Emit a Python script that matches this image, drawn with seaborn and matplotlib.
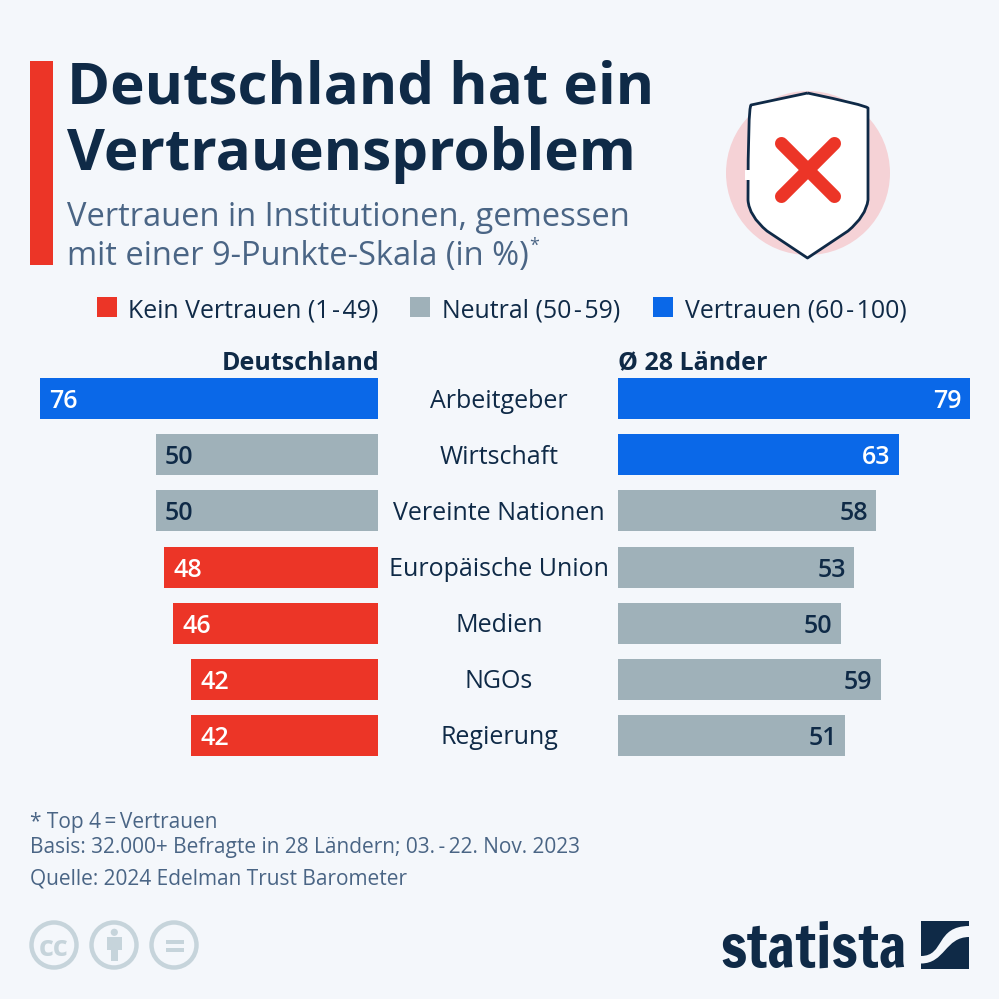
import numpy as np
import pandas as pd
import matplotlib
matplotlib.use('Agg')
import matplotlib.pyplot as plt
from matplotlib.patches import Rectangle, Circle, PathPatch
from matplotlib.path import Path
import seaborn as sns

institutions = ['Arbeitgeber', 'Wirtschaft', 'Vereinte Nationen', 'Europäische Union',
                'Medien', 'NGOs', 'Regierung']
deutschland = [76, 50, 50, 48, 46, 42, 42]
laender = [79, 63, 58, 53, 50, 59, 51]
legend_labels = ['Kein Vertrauen (1\u200a-\u200a49)', 'Neutral (50\u200a-\u200a59)', 'Vertrauen (60\u200a-\u200a100)']

RED = '#ec3527'
GREY = '#9fb1b9'
BLUE = '#0a68e8'
DARK = '#0f2a47'
SLATE = '#4a6585'
BG = '#f4f7fb'
ICON = '#c6d4db'
palette = {'kein': RED, 'neutral': GREY, 'vertrauen': BLUE}

sns.set_theme(style='white')
plt.rcParams['font.family'] = ['Open Sans', 'DejaVu Sans']

W = 999.0
PX_PER_UNIT = 4.455
STEP = 56.08
Y0 = 398.8


def status(v):
    if v < 50:
        return 'kein'
    if v < 60:
        return 'neutral'
    return 'vertrauen'


def bar_axes(fig, left, right):
    top = Y0 - STEP / 2
    bottom = Y0 + 6 * STEP + STEP / 2
    return fig.add_axes([left / W, 1 - bottom / W, (right - left) / W, (bottom - top) / W])


def draw_bars(ax, values):
    df = pd.DataFrame({'institution': institutions, 'value': values,
                       'status': [status(v) for v in values]})
    sns.barplot(data=df, y='institution', x='value', hue='status', order=institutions,
                palette=palette, dodge=False, legend=False, width=41 / STEP,
                orient='h', saturation=1, linewidth=0, ax=ax)
    ax.set_ylim(6.5, -0.5)
    ax.axis('off')


fig = plt.figure(figsize=(9.99, 9.99), dpi=100, facecolor=BG)

# left panel grows to the left from x=378
ax_de = bar_axes(fig, 28, 378.3)
draw_bars(ax_de, deutschland)
ax_de.set_xlim(350.3 / PX_PER_UNIT, 0)
for i, v in enumerate(deutschland):
    col = DARK if status(v) == 'neutral' else 'white'
    ax_de.annotate(str(v), (v, i), xytext=(6.8, 0), textcoords='offset points', ha='left',
                   va='center_baseline', color=col, fontsize=18, fontweight=600)

# right panel
ax_w = bar_axes(fig, 618, 978)
draw_bars(ax_w, laender)
ax_w.set_xlim(0, 360 / PX_PER_UNIT)
for i, v in enumerate(laender):
    col = DARK if status(v) == 'neutral' else 'white'
    ax_w.annotate(str(v), (v, i), xytext=(-6, 0), textcoords='offset points', ha='right',
                  va='center_baseline', color=col, fontsize=18, fontweight=600)

# everything else sits on a full figure overlay in pixel coordinates
ov = fig.add_axes([0, 0, 1, 1], zorder=5)
ov.set_xlim(0, W)
ov.set_ylim(W, 0)
ov.axis('off')
ov.patch.set_alpha(0)

for i, name in enumerate(institutions):
    ov.text(499, Y0 + i * STEP - 0.5, name, ha='center', va='center_baseline', color=DARK, fontsize=18)

ov.add_patch(Rectangle((30, 61), 23, 204, color=RED, lw=0))
ov.text(67, 104, 'Deutschland hat ein', fontsize=42, fontweight='bold', color=DARK)
ov.text(67, 170, 'Vertrauensproblem', fontsize=42, fontweight='bold', color=DARK)
ov.text(67, 226, 'Vertrauen in Institutionen, gemessen', fontsize=23.5, color=SLATE)
ov.text(67, 265, 'mit einer 9-Punkte-Skala (in %)', fontsize=23.5, color=SLATE)
ov.text(529, 251, '*', fontsize=13, color=SLATE)

# legend
for x, tx, col, label in zip([97, 410, 653], [128.5, 442, 685], [RED, GREY, BLUE], legend_labels):
    ov.add_patch(Rectangle((x, 297), 20, 20, color=col, lw=0))
    ov.text(tx, 317, label, fontsize=17.9, color=DARK)

ov.text(379.5, 370, 'Deutschland', ha='right', fontsize=18, fontweight='bold', color=DARK)
ov.text(618, 369.5, 'Ø 28 Länder', ha='left', fontsize=18, fontweight='bold', color=DARK)

# footnotes
ov.text(30, 828, '* Top 4\u2009=\u2009Vertrauen', fontsize=15, color=SLATE)
ov.text(30, 853, 'Basis: 32.000+ Befragte in 28 Ländern; 03.\u2009-\u200922. Nov. 2023', fontsize=15, color=SLATE)
ov.text(30, 885, 'Quelle: 2024 Edelman Trust Barometer', fontsize=15, color=SLATE)

# shield icon
ov.add_patch(Circle((808, 173), 82, color='#f5d2d6', lw=0))
shield = Path(
    [(807.5, 93), (751, 105), (748, 108), (748, 200), (749, 216), (767, 231), (807.5, 258),
     (848, 231), (866, 216), (868, 200), (868, 108), (865, 105), (807.5, 93)],
    [Path.MOVETO, Path.LINETO, Path.CURVE3, Path.LINETO, Path.CURVE3, Path.CURVE3, Path.LINETO,
     Path.LINETO, Path.CURVE3, Path.CURVE3, Path.LINETO, Path.CURVE3, Path.CURVE3])
ov.add_patch(PathPatch(shield, facecolor='white', edgecolor=DARK, lw=2, joinstyle='round'))
ov.add_patch(Rectangle((745, 170), 6, 10, color='white', lw=0, zorder=3))
ov.plot([781.5, 834.5], [143.5, 196.5], color=RED, lw=9.4, solid_capstyle='round', zorder=4)
ov.plot([781.5, 834.5], [196.5, 143.5], color=RED, lw=9.4, solid_capstyle='round', zorder=4)

# licence icons
for cx in [54, 114, 174]:
    ov.add_patch(Circle((cx, 945), 22.5, facecolor='none', edgecolor=ICON, lw=3.2))
ov.text(54, 945, 'cc', ha='center', va='center_baseline', fontsize=21, fontweight='bold', color=ICON)
ov.add_patch(Circle((114.3, 932.3), 3.6, color=ICON, lw=0))
ov.add_patch(Rectangle((107.3, 937), 14.4, 13, color=ICON, lw=0))
ov.add_patch(Rectangle((110.7, 950), 7.6, 11, color=ICON, lw=0))
ov.add_patch(Rectangle((165.7, 940), 18.3, 4, color=ICON, lw=0))
ov.add_patch(Rectangle((165.7, 947.5), 18.3, 4, color=ICON, lw=0))

# statista logo, size fitted to the width of the wordmark
logo = ov.text(720, 968, 'statista', fontsize=60, color=DARK, family=['Francois One', 'Liberation Sans'])
fig.canvas.draw()
logo.set_fontsize(60 * 187 / logo.get_window_extent().width)
ov.add_patch(Rectangle((921, 920.7), 48.3, 48.6, color=DARK, lw=0))
swoosh = Path(
    [(921, 963.5), (945, 963.5), (945, 937), (969.3, 937), (969.3, 926),
     (935, 926), (945, 956), (921, 956), (921, 963.5)],
    [Path.MOVETO, Path.CURVE4, Path.CURVE4, Path.CURVE4, Path.LINETO,
     Path.CURVE4, Path.CURVE4, Path.CURVE4, Path.CLOSEPOLY])
ov.add_patch(PathPatch(swoosh, facecolor=BG, edgecolor='none'))

fig.savefig('out.png', dpi=100, facecolor=BG)
